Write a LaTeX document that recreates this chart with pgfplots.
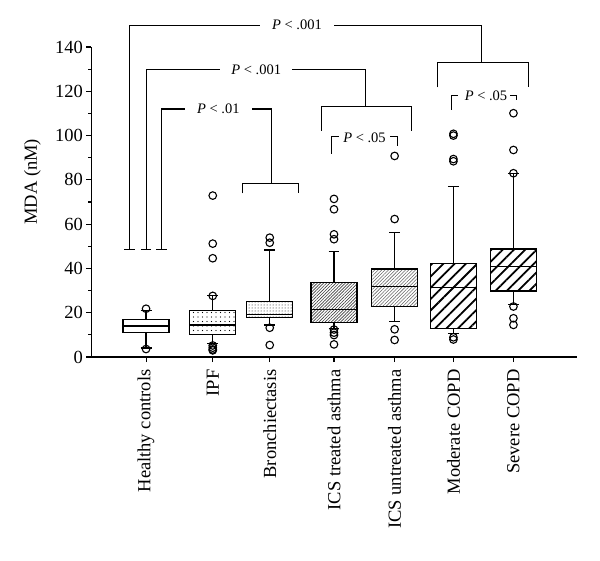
\documentclass[border=0pt]{standalone}
\usepackage{pgfplots}
\pgfplotsset{compat=1.18}
\usepgfplotslibrary{statistics}
\usetikzlibrary{patterns.meta}
\usepackage{fontspec}
\setmainfont{Liberation Serif}
\newcommand{\axfont}{\fontsize{18.5pt}{20pt}\selectfont}
\newcommand{\pfont}{\fontsize{14.5pt}{16pt}\selectfont}
\begin{document}
\begin{tikzpicture}
\path[use as bounding box] (-91.5pt,-203pt) rectangle (508.5pt,357pt);
\begin{axis}[
  scale only axis, width=485pt, height=310pt,
  xmin=0, xmax=8, ymin=0, ymax=140, enlargelimits=false,
  axis x line=bottom, axis y line=left,
  axis line style={-, line width=1.3pt, black},
  clip=false,
  ytick={0,20,...,140}, minor ytick={10,30,...,130},
  xtick={0.9,2.0,2.94,4.0,5.0,5.97,6.96},
  xticklabels={Healthy controls, IPF, Bronchiectasis, ICS treated asthma, ICS untreated asthma, Moderate COPD, Severe COPD},
  xticklabel style={rotate=90, anchor=east, font=\axfont},
  xticklabel shift=4pt,
  yticklabel style={font=\axfont},
  /pgf/number format/assume math mode=true,
  ylabel={MDA (nM)},
  ylabel style={font=\axfont, at={(axis description cs:-0.122,0.565)}, anchor=center},
  tick align=outside, major tick length=5pt, minor tick length=3pt,
  every tick/.style={line width=1.1pt, black},
  every axis plot/.append style={black, line width=1.3pt, mark=o, mark size=3.8pt, mark options={solid, line width=1.1pt}},
  boxplot/draw direction=y,
  boxplot/box extend=0.76, boxplot/whisker extend=0.18,
]
% Healthy controls
\addplot[boxplot prepared={draw position=0.9, lower whisker=4, lower quartile=11.0, median=14.0, upper quartile=17.0, upper whisker=21}, boxplot/every box/.style={fill=white}]
  coordinates {(0,21.8) (0,3.6)};
% IPF
\addplot[boxplot prepared={draw position=2.0, lower whisker=6.2, lower quartile=10.1, median=14.5, upper quartile=20.9, upper whisker=27.9}, boxplot/every box/.style={pattern={Dots[radius=0.55pt, distance=4.5pt]}}]
  coordinates {(0,72.9) (0,51.2) (0,44.6) (0,27.6) (0,5.2) (0,4.2) (0,3.4) (0,3.0)};
% Bronchiectasis
\addplot[boxplot prepared={draw position=2.94, lower whisker=14.5, lower quartile=17.8, median=19.3, upper quartile=25.0, upper whisker=48.3}, boxplot/every box/.style={pattern={Dots[radius=0.5pt, distance=3pt]}}]
  coordinates {(0,53.9) (0,51.6) (0,13.2) (0,5.4)};
% ICS treated asthma
\addplot[boxplot prepared={draw position=4.0, lower whisker=13.0, lower quartile=15.5, median=21.5, upper quartile=33.7, upper whisker=47.6}, boxplot/every box/.style={pattern={Lines[angle=45, distance=2.2pt, line width=0.65pt]}, pattern color=black!75}]
  coordinates {(0,71.4) (0,66.7) (0,55.4) (0,53.2) (0,12.4) (0,11.0) (0,9.9) (0,5.7)};
% ICS untreated asthma
\addplot[boxplot prepared={draw position=5.0, lower whisker=15.9, lower quartile=22.7, median=31.8, upper quartile=39.7, upper whisker=56.3}, boxplot/every box/.style={pattern={Lines[angle=45, distance=2.4pt, line width=0.55pt]}, pattern color=black!60}]
  coordinates {(0,90.8) (0,62.3) (0,12.5) (0,7.7)};
% Moderate COPD
\addplot[boxplot prepared={draw position=5.97, lower whisker=10.7, lower quartile=13.0, median=31.5, upper quartile=42.3, upper whisker=76.9}, boxplot/every box/.style={pattern={Lines[angle=45, distance=8pt, line width=1.8pt]}}]
  coordinates {(0,100.8) (0,100.0) (0,89.4) (0,88.4) (0,8.9) (0,7.9)};
% Severe COPD
\addplot[boxplot prepared={draw position=6.96, lower whisker=23.8, lower quartile=29.8, median=40.8, upper quartile=48.8, upper whisker=83.0}, boxplot/every box/.style={pattern={Lines[angle=45, distance=8pt, line width=1.8pt]}}]
  coordinates {(0,110.1) (0,93.5) (0,83.0) (0,22.8) (0,17.5) (0,14.5)};

% significance brackets
\begin{scope}[line width=1.1pt]
\draw (axis cs:0.627,48.6) -- (axis cs:0.627,149.9) -- (axis cs:6.438,149.9) -- (axis cs:6.438,133.1);
\draw (axis cs:5.712,121.8) -- (axis cs:5.712,133.1) -- (axis cs:7.203,133.1) -- (axis cs:7.203,121.8);
\draw (axis cs:0.902,48.6) -- (axis cs:0.902,129.9) -- (axis cs:4.52,129.9) -- (axis cs:4.52,113.0);
\draw (axis cs:3.80,102.2) -- (axis cs:3.80,113.0) -- (axis cs:5.283,113.0) -- (axis cs:5.283,102.2);
\draw (axis cs:1.155,48.6) -- (axis cs:1.155,112.0) -- (axis cs:2.964,112.0) -- (axis cs:2.964,78.4);
\draw (axis cs:2.485,73.9) -- (axis cs:2.485,78.4) -- (axis cs:3.42,78.4) -- (axis cs:3.42,73.9);
\draw (axis cs:0.627,48.6) ++(-5.3pt,0) -- ++(10.6pt,0);
\draw (axis cs:0.902,48.6) ++(-5.3pt,0) -- ++(10.6pt,0);
\draw (axis cs:1.155,48.6) ++(-5.3pt,0) -- ++(10.6pt,0);
\draw (axis cs:3.964,91.7) -- (axis cs:3.964,99.5) -- (axis cs:4.09,99.5);
\draw (axis cs:4.927,99.5) -- (axis cs:5.042,99.5) -- (axis cs:5.042,95.5);
\draw (axis cs:5.933,111.6) -- (axis cs:5.933,118.3) -- (axis cs:6.04,118.3);
\draw (axis cs:6.906,118.3) -- (axis cs:7.015,118.3) -- (axis cs:7.015,116.0);
\end{scope}
\node[fill=white, inner xsep=12pt, inner ysep=2pt, font=\pfont] at (axis cs:3.39,149.9) {\textit{P} < .001};
\node[fill=white, inner xsep=11pt, inner ysep=2pt, font=\pfont] at (axis cs:2.718,129.9) {\textit{P} < .001};
\node[fill=white, inner xsep=12pt, inner ysep=2pt, font=\pfont] at (axis cs:2.092,112.0) {\textit{P} < .01};
\node[inner sep=0pt, font=\pfont] at (axis cs:4.503,99.0) {\textit{P} < .05};
\node[inner sep=0pt, font=\pfont] at (axis cs:6.507,118.0) {\textit{P} < .05};
\end{axis}
\end{tikzpicture}
\end{document}
